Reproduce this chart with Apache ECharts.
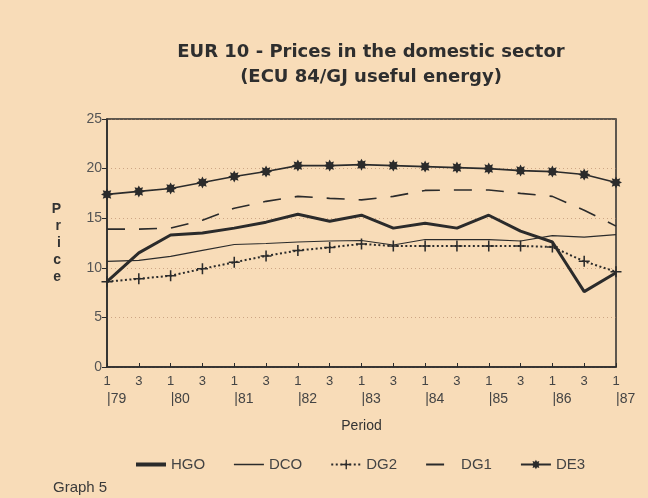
<!DOCTYPE html>
<html>
<head>
<meta charset="utf-8">
<script src="https://cdn.jsdelivr.net/npm/echarts@6/dist/echarts.min.js"></script>
<style>
  html, body { margin: 0; padding: 0; background: #f8dcb8; }
  #chart { width: 648px; height: 498px; }
</style>
</head>
<body>
<div id="chart"></div>
<script>
// periods: year / quarter (1 or 3)
const periods = ['79/1', '79/3', '80/1', '80/3', '81/1', '81/3', '82/1', '82/3',
    '83/1', '83/3', '84/1', '84/3', '85/1', '85/3', '86/1', '86/3', '87/1'];

// prices, ECU 84/GJ useful energy
const hgo = [8.6, 11.5, 13.3, 13.5, 14.0, 14.6, 15.4, 14.7, 15.3, 14.0, 14.5, 14.0, 15.3, 13.7, 12.6, 7.6, 9.5];
const dco = [10.65, 10.75, 11.15, 11.75, 12.35, 12.45, 12.6, 12.7, 12.75, 12.3, 12.85, 12.85, 12.85, 12.7, 13.25, 13.1, 13.35];
const dg2 = [8.6, 8.9, 9.2, 9.9, 10.55, 11.2, 11.75, 12.05, 12.4, 12.2, 12.2, 12.2, 12.2, 12.2, 12.1, 10.65, 9.6];
const dg1 = [13.9, 13.9, 14.0, 14.8, 16.0, 16.7, 17.2, 17.0, 16.85, 17.2, 17.8, 17.85, 17.85, 17.5, 17.2, 15.8, 14.2];
const de3 = [17.4, 17.7, 18.0, 18.6, 19.2, 19.7, 20.3, 20.3, 20.4, 20.3, 20.2, 20.1, 20.0, 19.8, 19.7, 19.4, 18.6];

const ink = '#2b2b2b';
const font = '"Liberation Sans", Arial, sans-serif';

// 8 point star for DE3
function starPath() {
    let d = '';
    for (let i = 0; i < 16; i++) {
        const r = i % 2 === 0 ? 10 : 6;
        const a = Math.PI * i / 8;
        d += (i === 0 ? 'M' : 'L') + (10 + r * Math.sin(a)).toFixed(2) + ',' + (10 - r * Math.cos(a)).toFixed(2);
    }
    return 'path://' + d + 'Z';
}
const plusPath = 'path://M4.3,0H5.7V4.3H10V5.7H5.7V10H4.3V5.7H0V4.3H4.3Z';

const chart = echarts.init(document.getElementById('chart'));

const noMark = { opacity: 0 };

const option = {
    backgroundColor: '#f8dcb8',
    animation: false,
    textStyle: { fontFamily: font },
    title: [
        {
            text: 'EUR 10 - Prices in the domestic sector\n(ECU 84/GJ useful energy)',
            left: 366,
            top: 35,
            textAlign: 'center',
            textStyle: {
                fontFamily: '"DejaVu Sans", sans-serif',
                fontWeight: 'bold',
                fontSize: 18,
                lineHeight: 25,
                color: '#2e2e2e'
            }
        },
        {
            text: 'Graph 5',
            left: 48,
            top: 475,
            textStyle: { fontFamily: font, fontWeight: 'normal', fontSize: 15, color: '#3a3a3a' }
        }
    ],
    legend: {
        left: 129,
        top: 452,
        itemWidth: 30,
        itemHeight: 12,
        itemGap: 28,
        textStyle: { fontFamily: font, fontSize: 15, color: '#444' },
        data: [
            { name: 'HGO', itemStyle: noMark, lineStyle: { width: 4 } },
            { name: 'DCO', itemStyle: noMark, lineStyle: { width: 1.5 } },
            'DG2',
            { name: 'DG1', itemStyle: noMark, lineStyle: { width: 2 } },
            'DE3'
        ]
    },
    grid: {
        left: 107,
        right: 32,
        top: 119,
        bottom: 131,
        show: true,
        borderColor: ink,
        borderWidth: 1.5,
        backgroundColor: 'transparent'
    },
    xAxis: [
        {
            type: 'category',
            data: periods,
            boundaryGap: false,
            axisLine: { lineStyle: { color: ink, width: 1.5 } },
            axisTick: { inside: true, length: 4, interval: 0, lineStyle: { color: ink } },
            axisLabel: {
                interval: 0,
                margin: 8,
                fontSize: 13,
                color: '#444',
                formatter: v => v.split('/')[1]
            },
            splitLine: { show: false }
        },
        {
            type: 'category',
            data: periods,
            boundaryGap: false,
            position: 'bottom',
            offset: 17,
            axisLine: { show: false },
            axisTick: { show: false },
            axisLabel: {
                interval: 1,
                margin: 8,
                fontSize: 14,
                color: '#444',
                align: 'left',
                formatter: v => '|' + v.split('/')[0]
            },
            name: 'Period',
            nameLocation: 'middle',
            nameGap: 35,
            nameTextStyle: { fontSize: 14, color: '#333' }
        }
    ],
    yAxis: {
        type: 'value',
        min: 0,
        max: 25,
        interval: 5,
        name: 'P\nr\ni\nc\ne',
        nameLocation: 'middle',
        nameRotate: 0,
        nameGap: 46,
        nameTextStyle: { fontSize: 14, lineHeight: 17, fontWeight: 'bold', color: '#333' },
        axisLine: { show: true, lineStyle: { color: ink, width: 1.5 } },
        axisTick: { show: true, length: 5, lineStyle: { color: ink } },
        axisLabel: { fontSize: 14, color: '#555', margin: 5 },
        splitLine: { lineStyle: { color: 'rgba(170,120,90,0.55)', type: [1, 3], width: 1 } }
    },
    series: [
        {
            name: 'HGO',
            type: 'line',
            data: hgo,
            symbol: 'none',
            itemStyle: { color: ink },
            lineStyle: { color: ink, width: 3 }
        },
        {
            name: 'DCO',
            type: 'line',
            data: dco,
            symbol: 'none',
            itemStyle: { color: ink },
            lineStyle: { color: ink, width: 1.2 }
        },
        {
            name: 'DG2',
            type: 'line',
            data: dg2,
            symbol: plusPath,
            symbolSize: 11,
            itemStyle: { color: ink },
            lineStyle: { color: ink, width: 2, type: [2, 2.5] }
        },
        {
            name: 'DG1',
            type: 'line',
            data: dg1,
            symbol: 'none',
            itemStyle: { color: ink },
            lineStyle: { color: ink, width: 1.6, type: [18, 14] }
        },
        {
            name: 'DE3',
            type: 'line',
            data: de3,
            symbol: starPath(),
            symbolSize: 12,
            itemStyle: { color: ink },
            lineStyle: { color: ink, width: 1.6 }
        }
    ]
};

chart.setOption(option);
</script>
</body>
</html>
